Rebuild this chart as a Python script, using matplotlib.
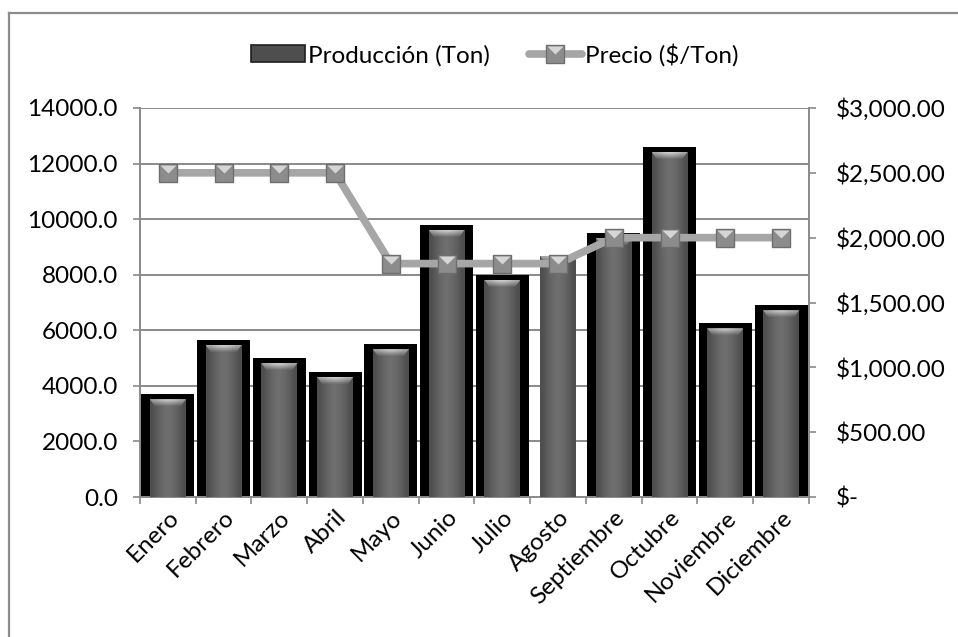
import numpy as np
import matplotlib
matplotlib.use("Agg")
import matplotlib.pyplot as plt
from matplotlib.patches import Polygon, Patch
from matplotlib.lines import Line2D
from matplotlib.path import Path
from matplotlib.legend_handler import HandlerTuple
from matplotlib.ticker import FuncFormatter, MultipleLocator

# ---- data ----
meses = ["Enero", "Febrero", "Marzo", "Abril", "Mayo", "Junio", "Julio",
         "Agosto", "Septiembre", "Octubre", "Noviembre", "Diciembre"]
produccion = [3700, 5650, 5000, 4500, 5500, 9800, 8000, 8850, 9500, 12600, 6250, 6900]
precio = [2500, 2500, 2500, 2500, 1800, 1800, 1800, 1800, 2000, 2000, 2000, 2000]
con_borde = [True, True, True, True, True, True, True, False, True, True, True, True]

plt.rcParams['font.family'] = ['Lato', 'DejaVu Sans']
FS = 17.5

W, H = 958, 637
fig = plt.figure(figsize=(W / 100, H / 100), dpi=100)
fig.patch.set_facecolor("white")

# outer chart frame (left and top edges)
fig.add_artist(Line2D([9 / W, 9 / W], [0, 1 - 13 / H], color="#8c8c8c", lw=1.6,
                      transform=fig.transFigure))
fig.add_artist(Line2D([9 / W, 1.0], [1 - 13 / H, 1 - 13 / H], color="#8c8c8c", lw=1.6,
                      transform=fig.transFigure))

ax = fig.add_axes([140 / W, 1 - 497 / H, 669 / W, 389 / H])
ax2 = ax.twinx()

x = np.arange(len(meses))
px = 14000 / 389.0          # data units per pixel on the left axis
top_off = 5 * px            # black outline shows above the bar fill
w_out, w_in = 0.95, 0.645

grad_h = np.array([[0.30, 0.35, 0.39, 0.42, 0.44, 0.42, 0.39, 0.35, 0.30]])

for xi, val, borde in zip(x, produccion, con_borde):
    if borde:
        ax.bar(xi, val, width=w_out, color="black", zorder=2, linewidth=0)
    top = val - top_off
    inner = ax.bar(xi, top, width=w_in, color="#5a5a5a", zorder=3, linewidth=0)[0]
    im = ax.imshow(grad_h, cmap="gray", vmin=0, vmax=1, aspect="auto",
                   extent=[xi - w_in / 2, xi + w_in / 2, 0, top], zorder=3.1,
                   interpolation="bicubic")
    im.set_clip_path(inner)
    # bevel highlight at the top of the bar
    dy = 7 * px
    dx = 0.09
    bevel = Polygon([(xi - w_in / 2, top), (xi + w_in / 2, top),
                     (xi + w_in / 2 - dx, top - dy), (xi - w_in / 2 + dx, top - dy)],
                    closed=True, facecolor="none", edgecolor="none", zorder=3.2)
    ax.add_patch(bevel)
    g = np.linspace(0.85, 0.45, 20)[:, None] * np.array([[0.78, 0.92, 1.0, 0.92, 0.78]])
    imb = ax.imshow(g, cmap="gray", vmin=0, vmax=1, aspect="auto",
                    extent=[xi - w_in / 2, xi + w_in / 2, top - dy, top], zorder=3.2,
                    interpolation="bicubic")
    imb.set_clip_path(bevel)

ax.set_xlim(-0.5, len(meses) - 0.5)
ax.set_ylim(0, 14000)
ax.yaxis.set_major_locator(MultipleLocator(2000))
ax.yaxis.set_major_formatter(FuncFormatter(lambda v, p: f"{v:.1f}"))
ax.set_axisbelow(True)
ax.grid(axis="y", color="#8a8a8a", lw=1.4, zorder=0)

ax.set_xticks(np.arange(len(meses) + 1) - 0.5, minor=False)
ax.set_xticklabels([])
ax.set_xticks(x, minor=True)
ax.set_xticklabels(meses, minor=True, rotation=45, ha="right", va="top",
                   rotation_mode="anchor", fontsize=FS)
ax.tick_params(axis="x", which="minor", length=0, pad=7)
ax.tick_params(axis="x", which="major", length=5, color="#8a8a8a", width=1.2)
ax.tick_params(axis="y", length=5, color="#8a8a8a", width=1.2, labelsize=FS, pad=11)

for s in ["top", "right"]:
    ax.spines[s].set_visible(False)
ax.spines["left"].set_color("#8a8a8a")
ax.spines["left"].set_linewidth(1.4)
ax.spines["bottom"].set_color("#8a8a8a")
ax.spines["bottom"].set_linewidth(1.4)

# price line on secondary axis
ax2.set_ylim(0, 3000)
ax2.yaxis.set_major_locator(MultipleLocator(500))
ax2.yaxis.set_major_formatter(FuncFormatter(lambda v, p: "$-" if v == 0 else f"${v:,.2f}"))
ax2.tick_params(axis="y", length=5, color="#8a8a8a", width=1.2, labelsize=FS, pad=14)
for s in ["top", "left", "bottom"]:
    ax2.spines[s].set_visible(False)
ax2.spines["right"].set_color("#8a8a8a")
ax2.spines["right"].set_linewidth(1.4)

tri = Path([(-1, 1), (1, 1), (0, 0), (-1, 1)],
           [Path.MOVETO, Path.LINETO, Path.LINETO, Path.CLOSEPOLY])
ms = 13.5
ln, = ax2.plot(x, precio, color="#a6a6a6", lw=5.5, marker="s", ms=ms,
               mfc="#8c8c8c", mec="#6e6e6e", mew=1.0, zorder=5,
               solid_joinstyle="round", solid_capstyle="round")
tr, = ax2.plot(x, precio, ls="none", marker=tri, ms=ms - 2,
               mfc="#d6d6d6", mec="none", zorder=6)

bar_h = Patch(facecolor="#4e4e4e", edgecolor="#1e1e1e", linewidth=1.2)
leg = fig.legend([bar_h, (ln, tr)], ["Producción (Ton)", "Precio ($/Ton)"],
                 handler_map={tuple: HandlerTuple(ndivide=1, pad=0)},
                 loc="center", bbox_to_anchor=(495 / W, 1 - 55 / H), ncol=2,
                 frameon=False, fontsize=FS, handlelength=2.2, handletextpad=0.12,
                 columnspacing=1.6)

fig.savefig("out.png", dpi=100, facecolor="white")
